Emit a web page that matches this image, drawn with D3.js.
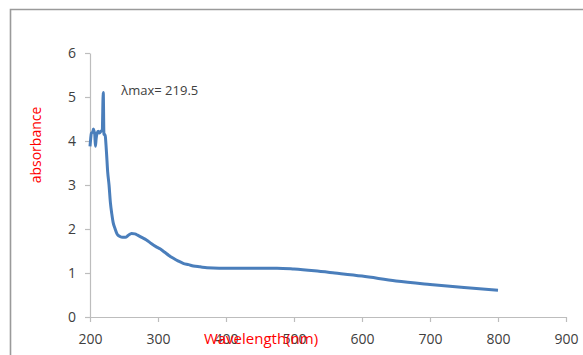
<!DOCTYPE html>
<html>
<head>
<meta charset="utf-8">
<script src="https://cdn.jsdelivr.net/npm/d3@7"></script>
<style>
  html, body { margin: 0; padding: 0; background: #fff; }
  svg { display: block; }
  text { font-family: "Open Sans", "Noto Sans", sans-serif; }
</style>
</head>
<body>
<svg id="chart" width="583" height="355"></svg>
<script>
// UV-Vis absorption spectrum: wavelength (nm) vs absorbance
const wavelength = [200, 201, 202, 204, 205, 206, 207, 208, 209, 210.5, 212, 214, 216, 218, 219.5, 220.5, 222, 224, 226, 228, 230, 232, 234, 237, 240, 244, 248, 252, 256, 261, 266, 270, 276, 283, 290, 297, 303, 310, 316, 322, 330, 337, 345, 352, 362, 372, 390, 420, 450, 475, 500, 530, 560, 600, 650, 700, 750, 800];
const absorbance = [3.88, 4.05, 4.18, 4.2, 4.27, 4.22, 4.15, 3.88, 4.05, 4.18, 4.22, 4.18, 4.22, 4.25, 5.1, 4.15, 4.15, 3.8, 3.3, 3.0, 2.6, 2.35, 2.15, 2.0, 1.88, 1.83, 1.81, 1.81, 1.85, 1.9, 1.89, 1.86, 1.81, 1.75, 1.67, 1.6, 1.55, 1.47, 1.4, 1.34, 1.27, 1.22, 1.19, 1.16, 1.14, 1.12, 1.11, 1.11, 1.11, 1.11, 1.09, 1.05, 1.0, 0.93, 0.82, 0.74, 0.67, 0.61];
const xTicks = [200, 300, 400, 500, 600, 700, 800, 900];
const yTicks = [0, 1, 2, 3, 4, 5, 6];
const peakLabel = "λmax= 219.5";
const peakWavelength = 219.5;
const peakAbsorbance = 5.1;

const svg = d3.select("#chart");

// outer frame
svg.append("path")
  .attr("d", "M10.5,360 V9.5 H590")
  .attr("fill", "none")
  .attr("stroke", "#9a9a9a")
  .attr("stroke-width", 1.6);

const x = d3.scaleLinear().domain([200, 900]).range([90, 566]);
const y = d3.scaleLinear().domain([0, 6]).range([317, 53]);

const axisColor = "#bdbdbd";
const labelColor = "#404040";

// x axis
const gx = svg.append("g")
  .attr("transform", `translate(0,${y(0)})`)
  .call(d3.axisBottom(x).tickValues(xTicks).tickFormat(d3.format("d"))
    .tickSize(5).tickPadding(12).tickSizeOuter(0));
gx.select(".domain").attr("stroke", axisColor).attr("stroke-width", 1.2);
gx.selectAll(".tick line").attr("stroke", axisColor).attr("stroke-width", 1.2);
gx.selectAll(".tick text")
  .attr("fill", labelColor)
  .style("font-size", "14px");

// y axis
const gy = svg.append("g")
  .attr("transform", `translate(${x(200)},0)`)
  .call(d3.axisLeft(y).tickValues(yTicks).tickFormat(d3.format("d"))
    .tickSize(5).tickPadding(9).tickSizeOuter(0));
gy.select(".domain").attr("stroke", axisColor).attr("stroke-width", 1.2);
gy.selectAll(".tick line").attr("stroke", axisColor).attr("stroke-width", 1.2);
gy.selectAll(".tick text")
  .attr("fill", labelColor)
  .style("font-size", "14px");

// spectrum line
const pts = wavelength.map((w, i) => [w, absorbance[i]]);
svg.append("path")
  .datum(pts)
  .attr("fill", "none")
  .attr("stroke", "#4a7ebb")
  .attr("stroke-width", 3)
  .attr("stroke-linejoin", "round")
  .attr("d", d3.line().x(d => x(d[0])).y(d => y(d[1])).curve(d3.curveMonotoneX));

// peak annotation
svg.append("text")
  .attr("x", x(peakWavelength) + 18)
  .attr("y", y(peakAbsorbance) + 2)
  .attr("fill", labelColor)
  .style("font-size", "13px")
  .text(peakLabel);

// axis titles
svg.append("text")
  .attr("x", 261)
  .attr("y", 344)
  .attr("text-anchor", "middle")
  .attr("fill", "#ff0000")
  .style("font-size", "15px")
  .text("Wavelength(nm)");

svg.append("text")
  .attr("transform", "translate(41,145) rotate(-90)")
  .attr("text-anchor", "middle")
  .attr("fill", "#ff0000")
  .style("font-size", "14px")
  .text("absorbance");
</script>
</body>
</html>
